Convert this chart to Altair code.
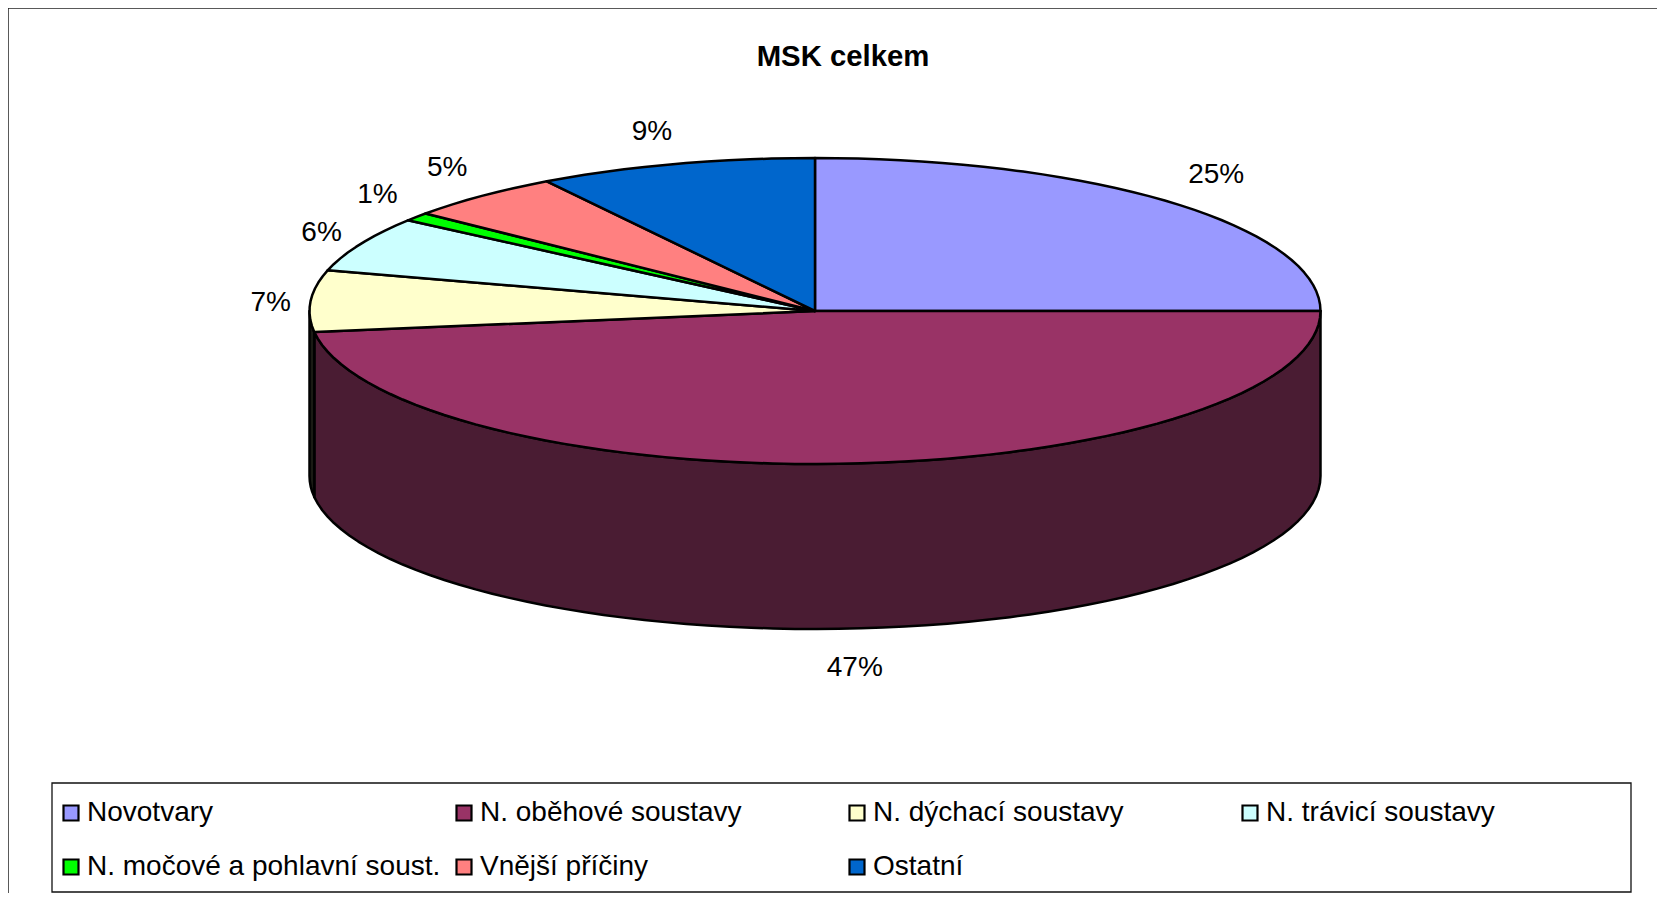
import math
import altair as alt

title_text = "MSK celkem"
categories = ["Novotvary", "N. oběhové soustavy", "N. dýchací soustavy", "N. trávicí soustavy",
              "N. močové a pohlavní soust.", "Vnější příčiny", "Ostatní"]
shares = [25.0, 47.8, 6.5, 5.8, 0.9, 5.1, 8.9]
labels = ["25%", "47%", "7%", "6%", "1%", "5%", "9%"]
colors = ["#9999FF", "#993366", "#FFFFCC", "#CCFFFF", "#00FF00", "#FF8080", "#0066CC"]
wall_colors = ["#4D4D80", "#4A1C33", "#1a1a14", "#667F7F", "#008000", "#804040", "#003366"]
label_nudge_x = [14, 2, 2, -1, -6, -7, -12]
label_nudge_y = [-4, 6, 4, 3, -2, -3, 0]
# Vega fills legend columns top-down; this order reads row by row in the picture
legend_order = [0, 4, 1, 5, 2, 6, 3]

W, H = 1649, 885
CX, CY = 807.0, 303.0
RX, RY, DEPTH = 505.5, 153.0, 165.0
GAP_X, GAP_Y = 42.0, 33.0
FONT = "Liberation Sans, Arial"


def pt(a, drop=0.0):
    r = math.radians(a)
    return [RX * math.sin(r), RY * math.cos(r) - drop]


def arc(a0, a1, drop=0.0):
    n = max(2, int(abs(a1 - a0) / 2.5) + 1)
    return [pt(a0 + (a1 - a0) * i / n, drop) for i in range(n + 1)]


tops, walls, texts = [], [], []
acc = 0.0
for name, share, lab, wc, nx, ny in zip(categories, shares, labels, wall_colors, label_nudge_x, label_nudge_y):
    a0 = acc * 3.6
    acc += share
    a1 = acc * 3.6
    ring = [[0.0, 0.0]] + arc(a0, a1) + [[0.0, 0.0]]
    tops.append({"type": "Feature", "properties": {"name": name},
                 "geometry": {"type": "Polygon", "coordinates": [ring]}})
    w0, w1 = max(a0, 90.0), min(a1, 270.0)
    if w1 > w0:
        wring = arc(w0, w1) + arc(w1, w0, DEPTH)
        wring.append(wring[0])
        walls.append({"type": "Feature", "properties": {"name": name, "wall": wc},
                      "geometry": {"type": "Polygon", "coordinates": [wring]}})
    mid = math.radians((a0 + a1) / 2)
    front = DEPTH if math.cos(mid) < -0.5 else 0.0
    texts.append({"lon": (RX + GAP_X) * math.sin(mid) + nx,
                  "lat": (RY + GAP_Y) * math.cos(mid) - front - ny,
                  "label": lab})

PROJ = dict(type="identity", reflectY=True, scale=1, translate=[CX, CY])

wall_layer = alt.Chart(alt.Data(values=walls)).mark_geoshape(
    stroke="black", strokeWidth=2.5, strokeJoin="round"
).encode(fill=alt.Fill("properties.wall:N", scale=None)).project(**PROJ)

top_layer = alt.Chart(alt.Data(values=tops)).mark_geoshape(
    stroke="black", strokeWidth=2.5, strokeJoin="round"
).encode(
    color=alt.Color(
        "properties.name:N",
        scale=alt.Scale(domain=[categories[i] for i in legend_order],
                        range=[colors[i] for i in legend_order]),
        legend=alt.Legend(
            title=None, orient="none", legendX=49, legendY=791, columns=4, gridAlign="all",
            columnPadding=9, rowPadding=26, padding=0,
            symbolType="square", symbolSize=225, symbolStrokeColor="black", symbolStrokeWidth=2.2,
            labelFont=FONT, labelFontSize=28, labelColor="black", labelLimit=600, labelOffset=2,
        ),
    )
).project(**PROJ)

text_layer = alt.Chart(alt.Data(values=texts)).mark_text(
    font=FONT, fontSize=28, color="black", align="center", baseline="middle"
).encode(longitude="lon:Q", latitude="lat:Q", text="label:N").project(**PROJ)

title_layer = alt.Chart(alt.Data(values=[{"t": title_text}])).mark_text(
    font=FONT, fontSize=29.3, fontWeight="bold", color="black", align="center", baseline="middle"
).encode(x=alt.value(835), y=alt.value(49), text="t:N")

frame_h = alt.Chart(alt.Data(values=[{}])).mark_rule(color="#222222", strokeWidth=1.5).encode(
    x=alt.value(0), x2=alt.value(W), y=alt.value(0))
frame_v = alt.Chart(alt.Data(values=[{}])).mark_rule(color="#222222", strokeWidth=1.5).encode(
    x=alt.value(0), y=alt.value(0), y2=alt.value(H))
legend_box = alt.Chart(alt.Data(values=[{}])).mark_rect(
    fill="white", stroke="#111111", strokeWidth=1.3
).encode(x=alt.value(44), x2=alt.value(1623), y=alt.value(775), y2=alt.value(884))

chart = alt.layer(frame_h, frame_v, legend_box, wall_layer, top_layer, text_layer, title_layer).properties(
    width=W, height=H, padding=0, autosize=alt.AutoSizeParams(type="none"), background="white"
).configure_view(stroke=None)

chart.save("out.html", embed_options={"renderer": "svg", "actions": False})
